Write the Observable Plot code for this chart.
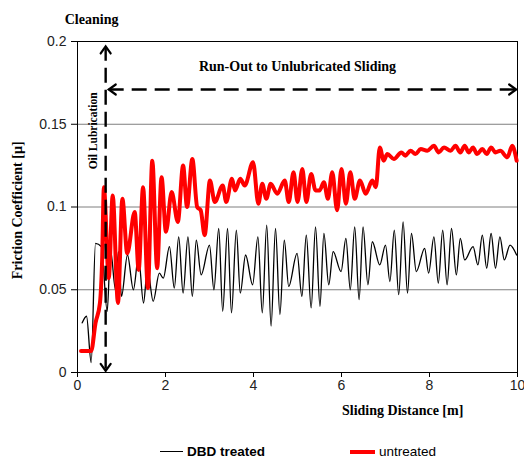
<!DOCTYPE html>
<html>
<head>
<meta charset="utf-8">
<script src="https://cdn.jsdelivr.net/npm/d3@7"></script>
<script src="https://cdn.jsdelivr.net/npm/@observablehq/plot@0.6"></script>
<style>
  html, body { margin: 0; padding: 0; background: #fff; }
  #wrap { width: 524px; position: relative; }
  #legend { position: relative; width: 524px; height: 34px; font-family: "Liberation Sans", Arial, sans-serif; font-size: 13.5px; color: #000; }
  .item { position: absolute; top: 19px; display: flex; align-items: center; }
  .swatch { display: inline-block; margin-right: 4px; }
</style>
</head>
<body>
<div id="wrap"></div>
<script>
// Sliding distance [m] and friction coefficient — DBD treated (black)
const dbdX = [0.107,0.205,0.311,0.409,0.545,0.675,0.75,0.864,0.93,1.0,1.136,1.27,1.386,1.5,1.59,1.72,1.86,1.95,2.09,2.20,2.30,2.40,2.51,2.61,2.70,2.81,3.0,3.10,3.21,3.30,3.41,3.50,3.61,3.70,3.82,3.98,4.10,4.20,4.30,4.40,4.50,4.60,4.70,4.80,4.99,5.10,5.20,5.31,5.41,5.51,5.60,5.71,5.81,5.99,6.10,6.20,6.30,6.40,6.49,6.60,6.70,6.87,7.0,7.10,7.20,7.30,7.40,7.50,7.59,7.70,7.89,7.98,8.10,8.20,8.30,8.40,8.50,8.61,8.70,8.80,8.99,9.10,9.20,9.30,9.40,9.50,9.60,9.70,9.83,9.98];
const dbdY = [0.030,0.034,0.006,0.078,0.076,0.037,0.074,0.050,0.073,0.046,0.071,0.050,0.070,0.042,0.063,0.043,0.060,0.057,0.076,0.051,0.082,0.048,0.082,0.046,0.080,0.059,0.077,0.050,0.087,0.037,0.087,0.036,0.086,0.048,0.071,0.053,0.082,0.036,0.089,0.028,0.087,0.035,0.080,0.052,0.072,0.046,0.083,0.039,0.088,0.040,0.084,0.053,0.073,0.061,0.081,0.050,0.088,0.044,0.088,0.053,0.079,0.065,0.077,0.055,0.086,0.047,0.091,0.048,0.084,0.061,0.075,0.060,0.082,0.054,0.086,0.053,0.087,0.059,0.081,0.068,0.076,0.065,0.083,0.063,0.084,0.063,0.082,0.068,0.077,0.071];

// untreated (red)
const untX = [0.08,0.31,0.41,0.51,0.56,0.60,0.71,0.80,0.92,1.02,1.13,1.30,1.39,1.49,1.60,1.70,1.81,1.91,2.01,2.14,2.28,2.40,2.49,2.61,2.72,2.80,2.89,3.01,3.12,3.30,3.38,3.51,3.58,3.70,3.80,3.99,4.11,4.20,4.29,4.39,4.54,4.71,4.80,4.91,5.0,5.11,5.20,5.31,5.41,5.50,5.60,5.69,5.79,5.90,6.0,6.10,6.20,6.30,6.42,6.55,6.70,6.78,6.87,6.96,7.04,7.19,7.36,7.45,7.57,7.68,7.80,7.95,8.10,8.21,8.33,8.48,8.59,8.70,8.80,8.89,8.99,9.08,9.20,9.30,9.40,9.50,9.61,9.77,9.88,9.98];
const untY = [0.013,0.013,0.030,0.042,0.068,0.112,0.057,0.107,0.042,0.105,0.072,0.097,0.062,0.112,0.051,0.128,0.063,0.118,0.085,0.109,0.091,0.125,0.100,0.129,0.100,0.098,0.083,0.116,0.103,0.113,0.103,0.117,0.110,0.117,0.113,0.127,0.102,0.114,0.105,0.114,0.108,0.116,0.103,0.121,0.103,0.123,0.103,0.120,0.110,0.110,0.115,0.105,0.121,0.098,0.123,0.102,0.121,0.105,0.116,0.108,0.116,0.112,0.136,0.128,0.132,0.129,0.133,0.131,0.134,0.132,0.135,0.134,0.137,0.133,0.136,0.134,0.137,0.133,0.137,0.133,0.136,0.132,0.135,0.132,0.136,0.133,0.134,0.130,0.137,0.128];

const xTicks = [0, 2, 4, 6, 8, 10];
const yTicks = [0, 0.05, 0.1, 0.15, 0.2];
const gridTicks = [0.05, 0.1, 0.15];

// annotations (data coordinates)
const oilRule = [{x: 0.64, y1: 0.002, y2: 0.196}];
const runRule = [{y: 0.171, x1: 0.72, x2: 9.96}];
// arrow tips: position and direction
const arrowTips = [
  {x: 0.64, y: 0.197, dir: "up"},
  {x: 0.64, y: 0.001, dir: "down"},
  {x: 0.71, y: 0.171, dir: "left"},
  {x: 9.97, y: 0.171, dir: "right"}
];
const serifTexts = [
  {x: 0.32, y: 0.213, text: "Cleaning"},
  {x: 5.0, y: 0.185, text: "Run-Out to Unlubricated Sliding"},
  {x: 7.39, y: -0.023, text: "Sliding Distance [m]"}
];
const rotTexts = [{x: -1.36, y: 0.098, text: "Friction Coefficient [µ]"}];
const oilText = [{x: 0.36, y: 0.146, text: "Oil Lubrication"}];

const dbd = dbdX.map((x, i) => ({x, y: dbdY[i]}));
const unt = untX.map((x, i) => ({x, y: untY[i]}));

// plot geometry (used to size the chevrons in pixels)
const W = 524, H = 425, mL = 77, mR = 7, mT = 41, mB = 53;
const xDomain = [0, 10], yDomain = [0, 0.2];
const pxX = (W - mL - mR) / (xDomain[1] - xDomain[0]);
const pxY = (H - mT - mB) / (yDomain[1] - yDomain[0]);
const wing = 5, depth = 7;
const chevrons = arrowTips.flatMap((t, i) => {
  const wx = wing / pxX, wy = wing / pxY, dx = depth / pxX, dy = depth / pxY;
  let a, b;
  if (t.dir === "up") { a = [t.x - wx, t.y - dy]; b = [t.x + wx, t.y - dy]; }
  else if (t.dir === "down") { a = [t.x - wx, t.y + dy]; b = [t.x + wx, t.y + dy]; }
  else if (t.dir === "left") { a = [t.x + dx, t.y + wy]; b = [t.x + dx, t.y - wy]; }
  else { a = [t.x - dx, t.y + wy]; b = [t.x - dx, t.y - wy]; }
  return [{id: i, x: a[0], y: a[1]}, {id: i, x: t.x, y: t.y}, {id: i, x: b[0], y: b[1]}];
});

const serif = '"Liberation Serif", "Times New Roman", serif';

const chart = Plot.plot({
  width: W, height: H,
  marginLeft: mL, marginRight: mR, marginTop: mT, marginBottom: mB,
  style: {fontFamily: '"Liberation Sans", Arial, sans-serif', fontSize: "14px", color: "#000", background: "#fff"},
  x: {domain: xDomain},
  y: {domain: yDomain},
  marks: [
    Plot.gridY(gridTicks, {stroke: "#7f7f7f", strokeOpacity: 1}),
    Plot.frame({stroke: "#000"}),
    Plot.axisY({ticks: yTicks, tickSize: 6, tickPadding: 5, tickFormat: d => String(d), label: null, fill: "#222"}),
    Plot.axisX({ticks: xTicks, tickSize: 5, tickPadding: 3, label: null, fill: "#222"}),
    Plot.line(dbd, {x: "x", y: "y", stroke: "#000", strokeWidth: 1.3, curve: "monotone-x"}),
    Plot.line(unt, {x: "x", y: "y", stroke: "#ff0000", strokeWidth: 4, curve: "monotone-x"}),
    Plot.ruleX(oilRule, {x: "x", y1: "y1", y2: "y2", stroke: "#000", strokeWidth: 2.4, strokeDasharray: "15 7"}),
    Plot.ruleY(runRule, {y: "y", x1: "x1", x2: "x2", stroke: "#000", strokeWidth: 2.4, strokeDasharray: "15 8"}),
    Plot.line(chevrons, {x: "x", y: "y", z: "id", stroke: "#000", strokeWidth: 2.2, strokeLinejoin: "miter", strokeMiterlimit: 4}),
    Plot.text(serifTexts, {x: "x", y: "y", text: "text", fontFamily: serif, fontWeight: "bold", fontSize: 14, fill: "#000"}),
    Plot.text(rotTexts, {x: "x", y: "y", text: "text", rotate: -90, fontFamily: serif, fontWeight: "bold", fontSize: 14, fill: "#000"}),
    Plot.text(oilText, {x: "x", y: "y", text: "text", rotate: -90, fontFamily: serif, fontWeight: "bold", fontSize: 11.5, fill: "#000"})
  ]
});
document.getElementById("wrap").appendChild(chart);

// legend
const legendItems = [
  {label: "DBD treated", color: "#000", width: 1.3, bold: true, left: 160, len: 23},
  {label: "untreated", color: "#ff0000", width: 4, bold: false, left: 350, len: 25}
];
const legend = document.createElement("div");
legend.id = "legend";
legendItems.forEach(it => {
  const d = document.createElement("div");
  d.className = "item";
  d.style.left = it.left + "px";
  const sw = document.createElement("span");
  sw.className = "swatch";
  sw.style.width = it.len + "px";
  sw.style.height = it.width + "px";
  sw.style.background = it.color;
  const t = document.createElement("span");
  t.textContent = it.label;
  t.style.fontWeight = it.bold ? "bold" : "normal";
  d.appendChild(sw); d.appendChild(t);
  legend.appendChild(d);
});
document.getElementById("wrap").appendChild(legend);
</script>
</body>
</html>
